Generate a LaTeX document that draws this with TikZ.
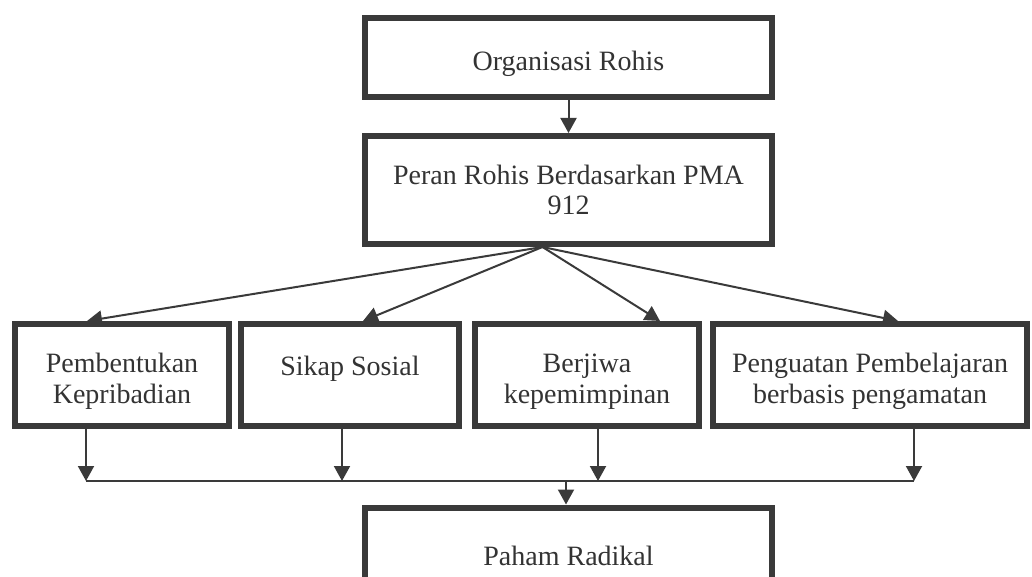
\documentclass[tikz,border=0pt]{standalone}
\usepackage{fontspec}
\setmainfont{Liberation Serif}
\usepackage{xcolor}
\usepackage{tikz}
\usetikzlibrary{arrows.meta,positioning,calc}
\definecolor{ink}{HTML}{3A3A3A}
\newcommand\rhlift{\rule{0pt}{16pt}}
\tikzset{
  rh box/.style={
    rectangle,
    draw=ink,
    line width=3pt,
    fill=white,
    align=center,
    font=\fontsize{14}{15.4}\selectfont,
    text=black!80,
    inner sep=2pt,
  },
  rh arrow/.style={-{Triangle[length=7.5pt,width=8pt]}, line width=1pt, draw=ink},
  rh line/.style={line width=1pt, draw=ink},
}

\begin{document}
\begin{tikzpicture}[x=0.5pt,y=-0.5pt,node distance=16.5pt]
  \useasboundingbox (0,0) rectangle (1032,577);
  \clip (0,0) rectangle (1032,577);

  \node[rh box,minimum width=203.5pt,minimum height=39.5pt] (org) at (568.5,57.5) {\rhlift Organisasi Rohis};
  \node[rh box,minimum width=203.5pt,minimum height=54pt,below=of org] (peran) {Peran Rohis Berdasarkan PMA\\912};

  % lower row
  \node[rh box,minimum width=107pt,minimum height=51pt] (pk) at (122,375) {\rhlift Pembentukan\\Kepribadian};
  \node[rh box,minimum width=109pt,minimum height=51pt] (ss) at (350,375) {\rhlift Sikap Sosial\\\mbox{}};
  \node[rh box,minimum width=112pt,minimum height=51pt] (bk) at (587,375) {\rhlift Berjiwa\\kepemimpinan};
  \node[rh box,minimum width=157pt,minimum height=51pt] (pp) at (870,375) {\rhlift Penguatan Pembelajaran\\berbasis pengamatan};

  \node[rh box,minimum width=203.5pt,minimum height=48.5pt] (pr) at (568.5,556) {Paham Radikal};

  \coordinate (fan) at ([xshift=-13pt]peran.south);
  \coordinate (barL) at (86,481);
  \coordinate (barR) at (914,481);
  \coordinate (mid) at (566,481);

  \draw[rh arrow] (org) -- (peran);

  \draw[rh arrow] (fan) -- ([xshift=-17.5pt]pk.north);
  \draw[rh arrow] (fan) -- ([xshift=6.5pt]ss.north);
  \draw[rh arrow] (fan) -- ([xshift=36.5pt]bk.north);
  \draw[rh arrow] (fan) -- ([xshift=14pt]pp.north);

  \draw[rh arrow] ([xshift=-18pt]pk.south) -- ([xshift=-18pt]pk.south |- barL);
  \draw[rh arrow] ([xshift=-4pt]ss.south) -- ([xshift=-4pt]ss.south |- barL);
  \draw[rh arrow] ([xshift=5.5pt]bk.south) -- ([xshift=5.5pt]bk.south |- barL);
  \draw[rh arrow] ([xshift=22pt]pp.south) -- ([xshift=22pt]pp.south |- barL);
  \draw[rh line] (barL) -- (barR);
  \draw[rh arrow] (mid) -- (mid |- pr.north);
\end{tikzpicture}
\end{document}
